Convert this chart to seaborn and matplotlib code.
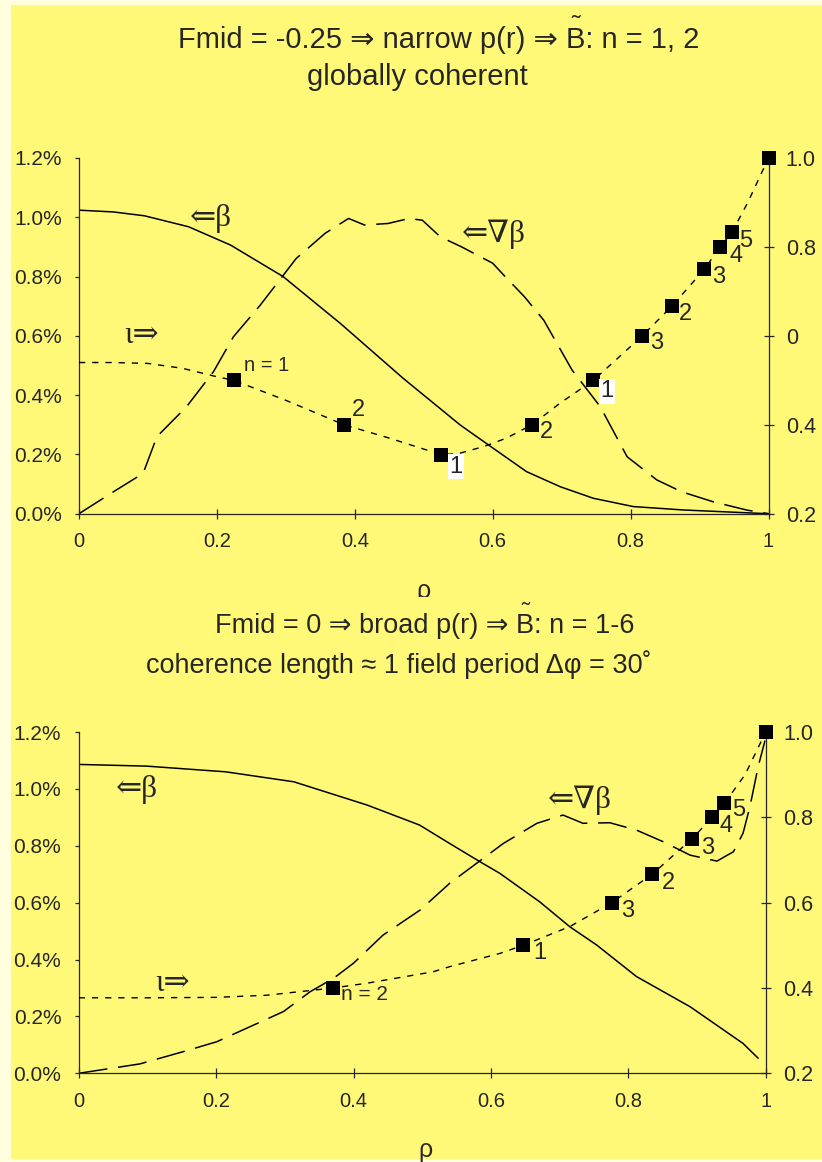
import matplotlib
matplotlib.use("Agg")
import matplotlib.pyplot as plt
import seaborn as sns
from matplotlib.patches import Rectangle

# ---------------- data ----------------
# top panel (Fmid = -0.25)
rho_beta_top = [0, 0.05, 0.095, 0.159, 0.22, 0.296, 0.379, 0.47, 0.553, 0.611,
                0.649, 0.698, 0.746, 0.804, 0.877, 0.969, 1.0]
beta_top = [1.024, 1.018, 1.005, 0.968, 0.906, 0.80, 0.642, 0.457, 0.299, 0.204,
            0.142, 0.091, 0.052, 0.024, 0.0125, 0.003, 0.0]

rho_grad_top = [0, 0.05, 0.093, 0.113, 0.156, 0.195, 0.224, 0.263, 0.315, 0.357,
                0.391, 0.414, 0.448, 0.479, 0.498, 0.524, 0.555, 0.60, 0.618, 0.646,
                0.674, 0.715, 0.756, 0.795, 0.838, 0.874, 0.92, 0.969, 1.0]
grad_top = [0, 0.074, 0.136, 0.26, 0.361, 0.479, 0.597, 0.704, 0.861, 0.946,
            0.996, 0.974, 0.979, 0.996, 0.99, 0.934, 0.90, 0.845, 0.80, 0.732,
            0.653, 0.485, 0.361, 0.192, 0.114, 0.074, 0.040, 0.012, 0.0]

rho_iota_top = [0, 0.05, 0.1, 0.15, 0.2, 0.2245, 0.3, 0.3845, 0.45, 0.525, 0.55,
                0.587, 0.62, 0.657, 0.698, 0.746, 0.817, 0.86, 0.907, 0.93, 0.947,
                0.97, 1.0]
iota_top = [0.54, 0.54, 0.538, 0.527, 0.508, 0.5, 0.455, 0.4, 0.37, 0.333, 0.335,
            0.351, 0.37, 0.4, 0.449, 0.5, 0.6, 0.667, 0.75, 0.8, 0.833, 0.9, 1.0]

rho_mark_top = [0.2245, 0.3845, 0.525, 0.657, 0.746, 0.817, 0.860, 0.907, 0.930, 0.947, 1.0]
iota_mark_top = [0.5, 0.4, 0.333, 0.4, 0.5, 0.6, 0.667, 0.75, 0.8, 0.833, 1.0]
labels_top = ["n = 1", "2", "1", "2", "1", "3", "2", "3", "4", "5", ""]

# bottom panel (Fmid = 0)
rho_beta_bot = [0, 0.099, 0.214, 0.313, 0.42, 0.496, 0.54, 0.584, 0.613, 0.671,
                0.715, 0.754, 0.812, 0.89, 0.967, 0.989]
beta_bot = [1.086, 1.080, 1.06, 1.025, 0.943, 0.873, 0.808, 0.744, 0.703, 0.603,
            0.515, 0.451, 0.340, 0.234, 0.105, 0.053]

rho_grad_bot = [0, 0.089, 0.152, 0.201, 0.298, 0.337, 0.371, 0.40, 0.443, 0.497,
                0.54, 0.584, 0.618, 0.667, 0.705, 0.734, 0.773, 0.812, 0.851, 0.89,
                0.929, 0.953, 0.967, 0.977, 0.989, 0.999]
grad_bot = [0, 0.033, 0.076, 0.111, 0.217, 0.287, 0.334, 0.387, 0.486, 0.574,
            0.668, 0.747, 0.808, 0.879, 0.908, 0.879, 0.881, 0.855, 0.814, 0.767,
            0.746, 0.779, 0.844, 0.937, 1.078, 1.17]

rho_iota_bot = [0, 0.1, 0.2, 0.274, 0.3706, 0.419, 0.516, 0.54, 0.613, 0.647,
                0.715, 0.776, 0.835, 0.893, 0.922, 0.94, 0.97, 1.0]
iota_bot = [0.377, 0.377, 0.378, 0.383, 0.4, 0.411, 0.438, 0.45, 0.481, 0.5,
            0.544, 0.6, 0.667, 0.75, 0.8, 0.833, 0.9, 1.0]

rho_mark_bot = [0.3706, 0.647, 0.776, 0.835, 0.893, 0.922, 0.940, 1.0]
iota_mark_bot = [0.4, 0.5, 0.6, 0.667, 0.75, 0.8, 0.833, 1.0]
labels_bot = ["n = 2", "1", "3", "2", "3", "4", "5", ""]

x_ticks = [0, 0.2, 0.4, 0.6, 0.8, 1.0]
x_ticklabels = ["0", "0.2", "0.4", "0.6", "0.8", "1"]
left_ticks = [0, 0.2, 0.4, 0.6, 0.8, 1.0, 1.2]
left_ticklabels = ["0.0%", "0.2%", "0.4%", "0.6%", "0.8%", "1.0%", "1.2%"]
right_ticks = [0.2, 0.4, 0.6, 0.8, 1.0]
right_ticklabels_top = ["0.2", "0.4", "0", "0.8", "1.0"]
right_ticklabels_bot = ["0.2", "0.4", "0.6", "0.8", "1.0"]

# ---------------- style ----------------
YELLOW = "#FFF977"
PALE = "#FFFFDD"
W, H = 822, 1162

sns.set_style("white")
plt.rcParams["font.family"] = ["Liberation Sans", "DejaVu Sans"]
plt.rcParams["axes.linewidth"] = 0.9
SERIF = ["Liberation Serif", "DejaVu Serif", "DejaVu Sans"]

fig = plt.figure(figsize=(W / 100, H / 100), dpi=100)
fig.patch.set_facecolor(PALE)
fig.add_artist(Rectangle((11 / W, 1 - 1159 / H), (W - 11) / W, (1159 - 5) / H,
                         transform=fig.transFigure, facecolor=YELLOW,
                         edgecolor="none", zorder=-10))


def box(x0, x1, ytop, ybot):
    return [x0 / W, 1 - ybot / H, (x1 - x0) / W, (ybot - ytop) / H]


def panel(ax, rb, b, rg, g, ri, io, rm, im, labels, offsets, rlabels,
          annots, nsize):
    ax.set_facecolor("none")
    sns.lineplot(x=rb, y=b, ax=ax, color="k", lw=1.1, sort=False, estimator=None)
    sns.lineplot(x=rg, y=g, ax=ax, color="k", lw=1.1, sort=False, estimator=None,
                 linestyle=(0, (19, 7)))
    ax.set_xlim(0, 1)
    ax.set_ylim(0, 1.2)
    ax.set_xticks(x_ticks)
    ax.set_xticklabels(x_ticklabels)
    ax.set_yticks(left_ticks)
    ax.set_yticklabels(left_ticklabels)
    ax.set_xlabel("")
    ax.set_ylabel("")
    for s in ["top", "right"]:
        ax.spines[s].set_visible(False)
    ax.tick_params(axis="x", direction="inout", length=7, width=0.9, pad=10,
                   labelsize=14.5, bottom=True)
    ax.tick_params(axis="y", direction="out", length=3, width=0.9, pad=9.5,
                   labelsize=15, left=True)
    for txt, xx, yy in annots:
        ax.text(xx, yy, txt, ha="left", va="center", fontsize=22.5, family=SERIF)

    ax2 = ax.twinx()
    ax2.set_facecolor("none")
    sns.lineplot(x=ri, y=io, ax=ax2, color="k", lw=1.0, sort=False, estimator=None,
                 linestyle=(0, (4.5, 5)))
    sns.scatterplot(x=rm, y=im, ax=ax2, marker="s", s=110, color="k",
                    linewidth=0, zorder=5)
    ax2.collections[-1].set_clip_on(False)
    ax2.set_xlim(0, 1)
    ax2.set_ylim(0.2, 1.0)
    ax2.set_yticks(right_ticks)
    ax2.set_yticklabels(rlabels)
    ax2.set_ylabel("")
    for s in ["top", "left", "bottom"]:
        ax2.spines[s].set_visible(False)
    ax2.tick_params(axis="y", direction="inout", length=7, width=0.9, pad=9,
                    labelsize=15.5, right=True)
    for (lbl, xx, yy, (dx, dy, boxed)) in zip(labels, rm, im, offsets):
        if not lbl:
            continue
        kw = {}
        if boxed:
            kw["bbox"] = dict(facecolor="white", edgecolor="none", pad=1)
        ax2.annotate(lbl, (xx, yy), xytext=(dx, -dy), textcoords="offset pixels",
                     ha="left", va="center",
                     fontsize=nsize if lbl.startswith("n") else 17, zorder=6, **kw)
    return ax2


ax_t = fig.add_axes(box(79, 768.5, 158, 513.7))
ax_b = fig.add_axes(box(78.7, 765.7, 732, 1073.3))

offs_top = [(10, -15, False), (8, -15, False), (8, 12, True), (8, 7, False),
            (7, 11, True), (8, 7, False), (7, 8, False), (8, 8, False),
            (9, 9, False), (7, 9, False), (0, 0, False)]
offs_bot = [(8, 7, False), (10, 8, False), (9, 8, False), (10, 9, False),
            (9, 9, False), (7, 9, False), (8, 7, False), (0, 0, False)]

panel(ax_t, rho_beta_top, beta_top, rho_grad_top, grad_top, rho_iota_top, iota_top,
      rho_mark_top, iota_mark_top, labels_top, offs_top, right_ticklabels_top,
      [("\u21d0\u03b2", 0.161, 0.997), ("\u21d0\u2207\u03b2", 0.555, 0.943),
       ("\u03b9\u21d2", 0.066, 0.601)], 14.5)
panel(ax_b, rho_beta_bot, beta_bot, rho_grad_bot, grad_bot, rho_iota_bot, iota_bot,
      rho_mark_bot, iota_mark_bot, labels_bot, offs_bot, right_ticklabels_bot,
      [("\u21d0\u03b2", 0.054, 0.999), ("\u21d0\u2207\u03b2", 0.683, 0.961),
       ("\u03b9\u21d2", 0.111, 0.317)], 15)

# x labels (rho); the upper one is partly hidden as in the original
fig.text(423.7 / W, 1 - 579 / H, "\u03c1", ha="center", va="top", fontsize=18)
fig.add_artist(Rectangle((395 / W, 1 - 612 / H), 60 / W, 15.5 / H,
                         transform=fig.transFigure, facecolor=YELLOW,
                         edgecolor="none", zorder=5))
fig.text(425 / W, 1 - 1138 / H, "\u03c1", ha="center", va="top", fontsize=18)

# titles
fig.canvas.draw()
renderer = fig.canvas.get_renderer()


def title_line(pre, post, xc, ybase, size):
    t = fig.text(xc / W, 1 - ybase / H, pre + "B" + post, ha="center",
                 va="baseline", fontsize=size, zorder=6)
    bb = t.get_window_extent(renderer)
    tmp = fig.text(0, 0, pre + "B", fontsize=size)
    w1 = tmp.get_window_extent(renderer).width
    tmp.remove()
    tmp = fig.text(0, 0, "B", fontsize=size)
    wb = tmp.get_window_extent(renderer).width
    tmp.remove()
    xb = bb.x0 + w1 - wb / 2
    lift = 0.52 * size * 100 / 72
    fig.text(xb / W, 1 - (ybase - lift) / H, "\u02dc", ha="center",
             va="baseline", fontsize=size * 0.9, zorder=6)


def plain_line(txt, xc, ybase, size):
    fig.text(xc / W, 1 - ybase / H, txt, ha="center", va="baseline",
             fontsize=size, zorder=6)


title_line("Fmid = -0.25 \u21d2 narrow p(r) \u21d2 ", ": n = 1, 2", 439, 48.3, 21)
plain_line("globally coherent", 417, 85, 21)
title_line("Fmid = 0 \u21d2 broad p(r) \u21d2 ", ": n = 1-6", 425, 632.7, 19.5)
plain_line("coherence length \u2248 1 field period \u0394\u03c6 = 30\u02da", 398.5, 673.3, 19.5)

fig.savefig("out.png", dpi=100, facecolor=fig.get_facecolor())
